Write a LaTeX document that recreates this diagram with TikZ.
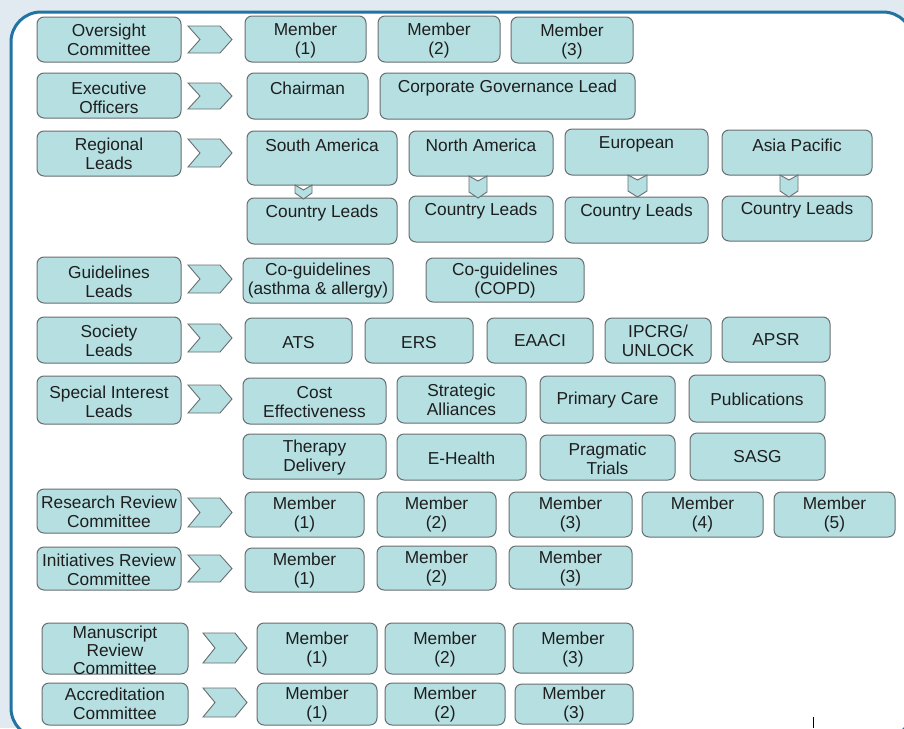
\documentclass[tikz,border=0pt]{standalone}
\usepackage{fontspec}
\setmainfont{Liberation Sans}
\definecolor{bgc}{RGB}{225,233,241}
\definecolor{framec}{RGB}{33,115,162}
\definecolor{boxfill}{RGB}{181,223,225}
\definecolor{boxdraw}{RGB}{105,110,112}
\definecolor{txtc}{RGB}{30,30,30}
\tikzset{
  obx/.style={draw=boxdraw, fill=boxfill, line width=1pt, rounded corners=7pt, inner sep=0pt},
  otxt/.style={inner sep=0pt, align=center, text=txtc, font=\fontsize{17.3}{19}\selectfont},
  chev/.style={draw=boxdraw, fill=boxfill, line width=0.9pt, line join=miter},
  frame/.style={draw=framec, line width=3pt, fill=white, rounded corners=30pt}
}
% name, x1, y1, x2, y2, text centre y, text
\newcommand\obox[7]{%
  \pgfmathsetmacro\bw{#4-#2}\pgfmathsetmacro\bh{#5-#3}%
  \node[obx, minimum width=\bw pt, minimum height=\bh pt] (#1) at ({(#2+#4)/2},{-(#3+#5)/2}) {};
  \node[otxt] (#1t) at ({(#2+#4)/2},{-#6}) {#7};}
% right chevron: x1 y1 x2 y2
\newcommand\chevR[4]{%
  \pgfmathsetmacro\ym{(#2+#4)/2}%
  \draw[chev] (#1,-#2) -- ({#3-12},-#2) -- (#3,-\ym) -- ({#3-12},-#4) -- (#1,-#4) -- ({#1+12},-\ym) -- cycle;}
% down chevron: x1 y1 x2 y2
\newcommand\chevD[4]{%
  \pgfmathsetmacro\xm{(#1+#3)/2}%
  \draw[chev] (#1,-#2) -- (\xm,{-(#2+5)}) -- (#3,-#2) -- (#3,{-(#4-6)}) -- (\xm,-#4) -- (#1,{-(#4-6)}) -- cycle;}
\begin{document}
\begin{tikzpicture}[x=1pt,y=1pt]
\useasboundingbox (0,0) rectangle (904,-728);
\clip (0,0) rectangle (904,-728);
\fill[bgc] (0,0) rectangle (904,-728);
\draw[frame] (11,-12) rectangle (913,-738);
\draw[black, line width=0.8pt] (813,-717) -- (813,-728);

% left column
\obox{oc}{37}{17}{181}{62}{40}{Oversight\\Committee}
\obox{eo}{37}{73}{181}{118}{97.5}{Executive\\Officers}
\obox{rl}{37}{131}{181}{176}{154}{Regional\\Leads}
\obox{gl}{37}{257}{181}{303}{282}{Guidelines\\Leads}
\obox{sl}{37}{317}{181}{363}{340.5}{Society\\Leads}
\obox{sil}{37}{376}{181}{424}{401.5}{Special Interest\\Leads}
\obox{rrc}{37}{489}{181}{533}{512}{Research Review\\Committee}
\obox{irc}{37}{547}{181}{590}{570}{Initiatives Review\\Committee}
\obox{mrc}{42}{623}{188}{674}{650}{Manuscript\\[-1pt]Review\\[-1pt]Committee}
\obox{ac}{42}{683}{188}{725}{704}{Accreditation\\Committee}

% right chevrons
\chevR{188}{26}{232}{53}
\chevR{188}{83}{232}{109}
\chevR{188}{139}{232}{167}
\chevR{188}{265}{232}{293}
\chevR{188}{324}{232}{352}
\chevR{188}{385}{232}{413}
\chevR{188}{498}{232}{527}
\chevR{188}{555}{232}{582}
\chevR{203}{633}{247}{663}
\chevR{203}{688}{247}{717}

% row 1
\obox{oc1}{245}{16}{366}{62}{41}{Member\\(1)}
\obox{oc2}{378}{16}{500}{62}{41}{Member\\(2)}
\obox{oc3}{511}{17}{633}{63}{41.5}{Member\\(3)}
% row 2
\obox{eo1}{247}{73}{368}{119}{88}{Chairman}
\obox{eo2}{380}{73}{635}{119}{88}{Corporate Governance Lead}
% row 3
\obox{rsa}{247}{131}{397}{185}{145}{South America}
\obox{rna}{409}{131}{553}{176}{145}{North America}
\obox{reu}{565}{129}{708}{175}{144}{European}
\obox{rap}{722}{130}{872}{175}{145}{Asia Pacific}
\obox{csa}{247}{198}{397}{244}{213}{Country Leads}
\obox{cna}{409}{196}{553}{242}{211}{Country Leads}
\obox{ceu}{565}{197}{708}{243}{212}{Country Leads}
\obox{cap}{722}{196}{872}{241}{210}{Country Leads}
\chevD{295}{185}{312}{199}
\chevD{469}{176}{487}{198}
\chevD{628}{175}{647}{197}
\chevD{780}{175}{798}{197}
% row 4
\obox{gl1}{243}{258}{393}{303}{281}{Co-guidelines\\(asthma \& allergy)}
\obox{gl2}{426}{258}{584}{302}{281}{Co-guidelines\\(COPD)}
% row 5
\obox{ats}{245}{318}{352}{363}{343}{ATS}
\obox{ers}{365}{318}{473}{363}{343}{ERS}
\obox{eaaci}{487}{318}{593}{363}{341}{EAACI}
\obox{ipcrg}{605}{318}{711}{363}{341}{IPCRG/\\UNLOCK}
\obox{apsr}{722}{317}{830}{362}{340}{APSR}
% row 6
\obox{ce}{243}{378}{386}{424}{402}{Cost\\Effectiveness}
\obox{sa}{397}{376}{526}{423}{400}{Strategic\\Alliances}
\obox{pc}{540}{376}{675}{423}{400}{Primary Care}
\obox{pub}{689}{375}{825}{422}{399}{Publications}
% row 7
\obox{td}{243}{434}{386}{479}{458}{Therapy\\Delivery}
\obox{eh}{397}{434}{526}{480}{458}{E-Health}
\obox{pt}{540}{435}{675}{480}{459}{Pragmatic\\Trials}
\obox{sasg}{690}{433}{825}{480}{457}{SASG}
% row 8
\obox{rr1}{245}{492}{364}{537}{515}{Member\\(1)}
\obox{rr2}{377}{492}{496}{537}{515}{Member\\(2)}
\obox{rr3}{509}{492}{632}{537}{515}{Member\\(3)}
\obox{rr4}{642}{492}{763}{537}{515}{Member\\(4)}
\obox{rr5}{774}{492}{895}{537}{515}{Member\\(5)}
% row 9
\obox{ir1}{245}{548}{364}{592}{570.5}{Member\\(1)}
\obox{ir2}{377}{546}{496}{590}{569}{Member\\(2)}
\obox{ir3}{509}{546}{632}{589}{569}{Member\\(3)}
% row 10
\obox{mr1}{257}{623}{377}{674}{650}{Member\\(1)}
\obox{mr2}{385}{623}{505}{674}{650}{Member\\(2)}
\obox{mr3}{513}{623}{633}{673}{650}{Member\\(3)}
% row 11
\obox{ac1}{257}{683}{377}{725}{705}{Member\\(1)}
\obox{ac2}{385}{683}{505}{725}{705}{Member\\(2)}
\obox{ac3}{515}{684}{633}{724}{705}{Member\\(3)}
\end{tikzpicture}
\end{document}
